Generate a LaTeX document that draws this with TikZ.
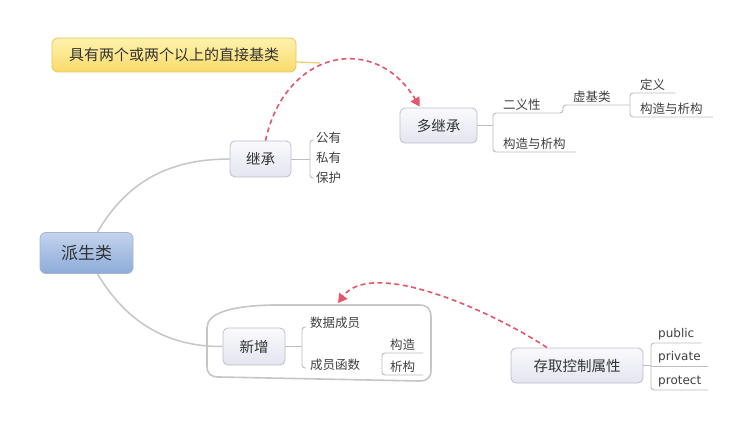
\documentclass[tikz,border=0pt]{standalone}
\usepackage{fontspec}
\setmainfont{Noto Sans CJK SC}
\newfontfamily\latinfont{DejaVu Sans}
\usetikzlibrary{arrows.meta,calc}
\definecolor{topictop}{HTML}{FAFAFD}
\definecolor{topicbot}{HTML}{E3E5F0}
\definecolor{topicborder}{HTML}{BCC0CC}
\definecolor{roottop}{HTML}{C4D4EE}
\definecolor{rootbot}{HTML}{8CABD8}
\definecolor{rootborder}{HTML}{A3B5CE}
\definecolor{calltop}{HTML}{FEF2AE}
\definecolor{callbot}{HTML}{F9DB6B}
\definecolor{callborder}{HTML}{E6C65E}
\definecolor{txt}{HTML}{333333}
\definecolor{leaftxt}{HTML}{404040}
\definecolor{linegray}{HTML}{BDBDBD}
\definecolor{trunkgray}{HTML}{C6C6C6}
\definecolor{relred}{HTML}{E5566B}
\definecolor{callline}{HTML}{EACF6C}
\begin{document}
\begin{tikzpicture}[x=1pt,y=-1pt,
  topic/.style={draw=topicborder, line width=0.8pt, rounded corners=5pt,
    top color=topictop, bottom color=topicbot, text=txt,
    font=\fontsize{14.5}{16}\selectfont, inner sep=0pt, minimum height=35pt},
  rootnode/.style={draw=rootborder, line width=0.8pt, rounded corners=6pt,
    top color=roottop, bottom color=rootbot, text=txt,
    font=\fontsize{17}{19}\selectfont, inner sep=0pt, minimum width=93pt, minimum height=41pt},
  callout/.style={draw=callborder, line width=0.8pt, rounded corners=6pt,
    top color=calltop, bottom color=callbot, text=txt,
    font=\fontsize{15}{17}\selectfont, inner sep=0pt},
  leaf/.style={anchor=south west, inner xsep=10pt, inner ysep=2.5pt, text=leaftxt,
    font=\fontsize{12.5}{14}\selectfont},
  leafc/.style={anchor=west, inner sep=0pt, text=leaftxt, font=\fontsize{12.5}{14}\selectfont},
  latin/.style={font=\latinfont\fontsize{12}{14}\selectfont},
  branch/.style={draw=linegray, line width=0.9pt},
  trunk/.style={draw=trunkgray, line width=1.5pt},
  boundary/.style={draw=trunkgray, line width=1.6pt},
  rel/.style={draw=relred, line width=1.6pt, dash pattern=on 5pt off 3.5pt,
    -{Triangle[length=9pt,width=10pt]}}
]
\useasboundingbox (0,0) rectangle (751,430);
\fill[white] (0,0) rectangle (751,430);

% boundary around 新增
\draw[boundary] (207,328) .. controls (207,314) and (228,306) .. (272,305)
  -- (419,305) .. controls (428,305) and (431,309) .. (431,318)
  -- (431,370) .. controls (431,378) and (427,381) .. (419,381)
  -- (219,377) .. controls (211,377) and (207,374) .. (207,366) -- cycle;

% topics
\node[rootnode] (root) at (86.5,253) {派生类};
\node[topic, minimum width=61pt, minimum height=36pt] (jc) at (260.5,159) {继承};
\node[topic, minimum width=77pt] (djc) at (438.5,125.5) {多继承};
\node[topic, minimum width=62pt, minimum height=37pt] (xz) at (254,346.5) {新增};
\node[topic, minimum width=132pt] (cq) at (577,365.5) {存取控制属性};
\node[callout, minimum width=244pt, minimum height=34pt] (cb) at (174,55) {具有两个或两个以上的直接基类};
\coordinate (cbend) at (320,63);
\draw[callline, line width=1.2pt] ($(cb.east)+(0,7)$) -- (cbend);

% trunks from root
\draw[trunk] ($(root.north)+(11,0)$) .. controls (125,185) and (165,159) .. (jc.west);
\draw[trunk] ($(root.south)+(11,0)$) .. controls (125,320) and (165,347) .. (xz.west);

% 继承 leaves
\node[leafc] (gy) at (316,138) {公有};
\node[leafc] (sy) at (316,158) {私有};
\node[leafc] (bh) at (316,178) {保护};
\coordinate (jcb) at ($(gy.west)+(-6,0)$);
\draw[branch, rounded corners=3pt] ($(gy.west)+(-2,2)$) -- ($(gy.west)+(-6,2)$)
  -- ($(bh.west)+(-6,0)$) -- ($(bh.west)+(-2,0)$);
\draw[branch] (jc.east) -- (jc.east -| jcb);

% 多继承 leaves
\node[leaf] (eyx) at (493,113) {二义性};
\node[leaf] (gz1) at (493,152) {构造与析构};
\node[leaf] (xjl) at (563,105) {虚基类};
\node[leaf] (dy) at (630,93) {定义};
\node[leaf] (gz2) at (630,117) {构造与析构};
\draw[branch] (djc.east) -- (djc.east -| eyx.south west);
\draw[branch, rounded corners=3pt] (dy.south west |- xjl.south) -- (xjl.south west)
  -- (xjl.south west |- eyx.south) -- (eyx.south west) -- (gz1.south west) -- (gz1.south east);
\draw[branch, rounded corners=3pt] (dy.south east) -- (dy.south west) -- (gz2.south west) -- (gz2.south east);

% 新增 leaves
\node[leafc] (sj) at (310,323) {数据成员};
\node[leafc] (hs) at (310,365) {成员函数};
\coordinate (xzb) at ($(sj.west)+(-8,0)$);
\draw[branch, rounded corners=3pt] ($(sj.west)+(-4,4)$) -- ($(sj.west)+(-8,4)$)
  -- ($(hs.west)+(-8,3)$) -- ($(hs.west)+(-4,3)$);
\draw[branch] (xz.east) -- (xz.east -| xzb);
\node[leaf, inner xsep=8pt] (gzz) at (382,353) {构造};
\node[leaf, inner xsep=8pt] (xg) at (382,375) {析构};
\draw[branch, rounded corners=3pt] (gzz.south east) -- (gzz.south west) -- (xg.south west) -- (xg.south east);
\draw[branch] ($(hs.east)+(3,3)$) -- ($(hs.east)+(3,3)$ -| gzz.south west);

% 存取控制属性 leaves
\node[leaf, latin, inner xsep=7pt] (pub) at (651,343) {public};
\node[leaf, latin, inner xsep=7pt] (pri) at (651,366) {private};
\node[leaf, latin, inner xsep=7pt] (pro) at (651,390) {protect};
\draw[branch, rounded corners=3pt] (pub.south east) -- (pub.south west) -- (pro.south west) -- (pro.south east);
\draw[branch] (pri.south west) -- (pri.south east);
\draw[branch] (cq.east) -- (cq.east -| pub.south west);

% relationships
\coordinate (djcin) at ($(djc.north west)+(20,-1)$);
\draw[rel] ($(jc.north)+(5,0)$) .. controls (285,50) and (375,32) .. (djcin);
\coordinate (bnd) at (338,303);
\draw[rel] ($(cq.north)+(-30,0)$) .. controls (490,310) and (372,258) .. (bnd);
\end{tikzpicture}
\end{document}
